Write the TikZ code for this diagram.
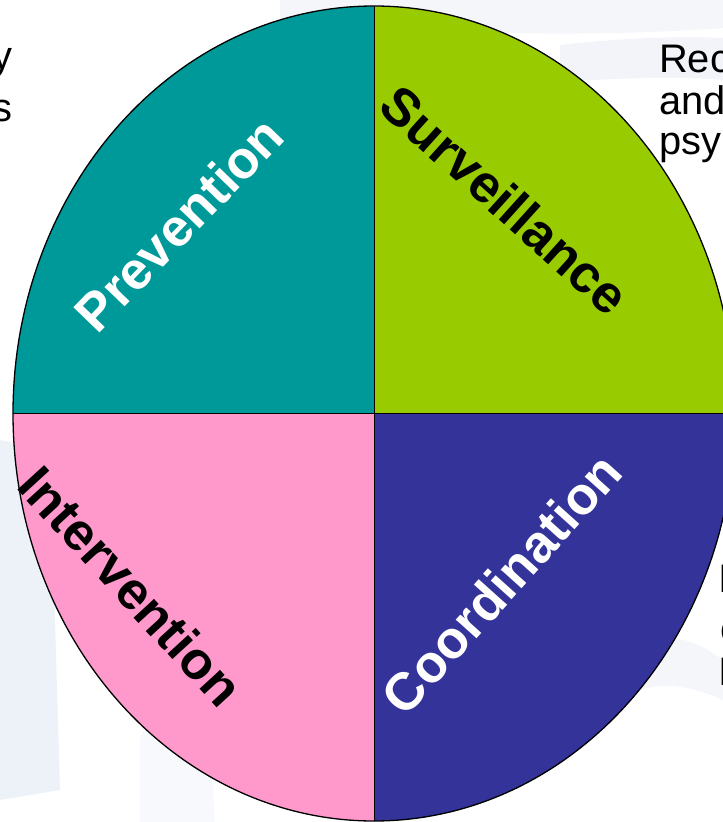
\documentclass[tikz,border=0pt]{standalone}
\usepackage{fontspec}
\setmainfont{Liberation Sans}
\definecolor{prevfill}{HTML}{009999}
\definecolor{survfill}{HTML}{99CC00}
\definecolor{intfill}{HTML}{FF99CC}
\definecolor{coordfill}{HTML}{333399}
\definecolor{wmark}{HTML}{E9EDF6}
\begin{document}
\begin{tikzpicture}[x=1bp,y=-1bp,
  quad/.style={font=\bfseries\fontsize{53}{60}\selectfont,inner sep=0},
  side/.style={font=\fontsize{40}{44}\selectfont,inner sep=0}]
\useasboundingbox (0,0) rectangle (723,822);
\clip (0,0) rectangle (723,822);
% faint watermark behind the wheel
\fill[wmark,opacity=.5](280,0)--(723,0)--(723,28)..controls(560,40)and(400,30)..(280,22)--cycle;
\fill[wmark,opacity=.6](560,45)..controls(620,38)and(680,36)..(723,38)--(723,80)..controls(680,76)and(620,78)..(560,82)--cycle;
\fill[wmark,opacity=.8](0,440)--(50,450)--(60,790)--(0,800)--cycle;
\fill[wmark,opacity=.35](140,740)..controls(150,700)and(200,700)..(210,740)--(215,822)--(140,822)--cycle;
\fill[wmark,opacity=.5](640,640)..controls(680,630)and(710,650)..(723,660)--(723,700)..controls(700,690)and(670,680)..(640,690)--cycle;
\coordinate (C) at (374,413.5);
\begin{scope}
\clip (C) ellipse [x radius=361,y radius=407.5];
\fill[prevfill](C) rectangle (0,0);
\fill[survfill](C) rectangle (760,0);
\fill[intfill](C) rectangle (0,830);
\fill[coordfill](C) rectangle (760,830);
\draw[line width=1bp](374,0)--(374,830) (0,413.5)--(760,413.5);
\end{scope}
\draw[line width=1.3bp](C) ellipse [x radius=361,y radius=407.5];
\node[quad,white,rotate=46](P) at (179,224){Prevention};
\node[quad,rotate=-42](S) at (505,200){Surveillance};
\node[quad,rotate=-47.5](I) at (131,586){Intervention};
\node[quad,white,rotate=48](Co) at (501.5,583.5){Coordination};
% text cut off by the slide edges
\node[side,anchor=base east](l1) at (13,70){y};
\node[side,anchor=base east](l2) at (13,121){s};
\node[side,anchor=base west](r1) at (659,73){Rec};
\node[side,anchor=base west](r2) at (659,114){and};
\node[side,anchor=base west](r3) at (659,154){psy};
\node[side,anchor=base west](b1) at (718,592){I};
\node[side,anchor=base west](b2) at (720,642){c};
\node[side,anchor=base west](b3) at (718,685){I};
\end{tikzpicture}
\end{document}
